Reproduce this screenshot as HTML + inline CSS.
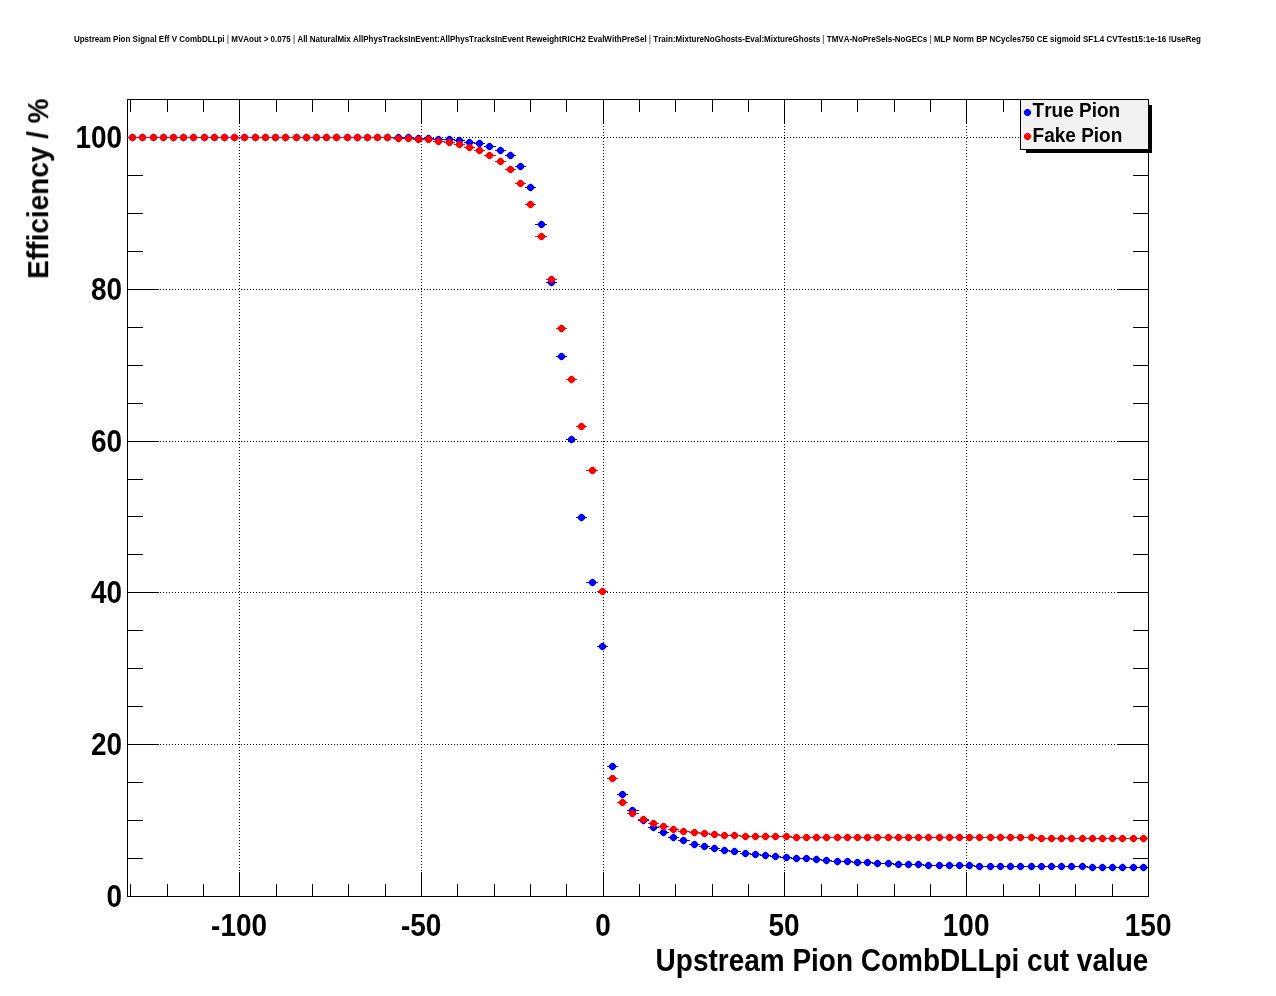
<!DOCTYPE html>
<html><head><meta charset="utf-8"><title>Upstream Pion Signal Eff V CombDLLpi</title>
<style>html,body{margin:0;padding:0;background:#fff}svg{display:block}text{font-family:"Liberation Sans",sans-serif;font-weight:bold;fill:#000;font-kerning:none}</style></head>
<body>
<svg width="1276" height="996" viewBox="0 0 1276 996">
<defs><filter id="gs" x="0" y="0" width="100%" height="100%" filterUnits="userSpaceOnUse" color-interpolation-filters="sRGB"><feColorMatrix type="saturate" values="0"/></filter></defs>
<rect width="1276" height="996" fill="#fff"/>
<g stroke="#000" stroke-width="1" stroke-dasharray="1 2" shape-rendering="crispEdges" fill="none">
<line x1="127" y1="744.5" x2="1148" y2="744.5"/>
<line x1="127" y1="592.5" x2="1148" y2="592.5"/>
<line x1="127" y1="441.5" x2="1148" y2="441.5"/>
<line x1="127" y1="289.5" x2="1148" y2="289.5"/>
<line x1="127" y1="137.5" x2="1148" y2="137.5"/>
<line x1="239.5" y1="99" x2="239.5" y2="896"/>
<line x1="421.5" y1="99" x2="421.5" y2="896"/>
<line x1="603.5" y1="99" x2="603.5" y2="896"/>
<line x1="784.5" y1="99" x2="784.5" y2="896"/>
<line x1="966.5" y1="99" x2="966.5" y2="896"/>
</g>
<g stroke="#000" stroke-width="1" shape-rendering="crispEdges" fill="none">
<rect x="127.5" y="99.5" width="1021" height="797"/>
<path d="M130.5 896v-12M130.5 100v12M167.5 896v-12M167.5 100v12M203.5 896v-12M203.5 100v12M239.5 896v-24M239.5 100v24M276.5 896v-12M276.5 100v12M312.5 896v-12M312.5 100v12M348.5 896v-12M348.5 100v12M385.5 896v-12M385.5 100v12M421.5 896v-24M421.5 100v24M457.5 896v-12M457.5 100v12M494.5 896v-12M494.5 100v12M530.5 896v-12M530.5 100v12M566.5 896v-12M566.5 100v12M603.5 896v-24M603.5 100v24M639.5 896v-12M639.5 100v12M675.5 896v-12M675.5 100v12M712.5 896v-12M712.5 100v12M748.5 896v-12M748.5 100v12M784.5 896v-24M784.5 100v24M821.5 896v-12M821.5 100v12M857.5 896v-12M857.5 100v12M894.5 896v-12M894.5 100v12M930.5 896v-12M930.5 100v12M966.5 896v-24M966.5 100v24M1003.5 896v-12M1003.5 100v12M1039.5 896v-12M1039.5 100v12M1075.5 896v-12M1075.5 100v12M1112.5 896v-12M1112.5 100v12M128 858.5h15M1148 858.5h-15M128 820.5h15M1148 820.5h-15M128 782.5h15M1148 782.5h-15M128 744.5h31M1148 744.5h-31M128 706.5h15M1148 706.5h-15M128 668.5h15M1148 668.5h-15M128 630.5h15M1148 630.5h-15M128 592.5h31M1148 592.5h-31M128 554.5h15M1148 554.5h-15M128 516.5h15M1148 516.5h-15M128 479.5h15M1148 479.5h-15M128 441.5h31M1148 441.5h-31M128 403.5h15M1148 403.5h-15M128 365.5h15M1148 365.5h-15M128 327.5h15M1148 327.5h-15M128 289.5h31M1148 289.5h-31M128 251.5h15M1148 251.5h-15M128 213.5h15M1148 213.5h-15M128 175.5h15M1148 175.5h-15M128 137.5h31M1148 137.5h-31"/>
</g>
<g fill="#0000ff" stroke="#0000ff" stroke-width="1">
<path fill="none" shape-rendering="crispEdges" d="M127 137.5H138M137 137.5H149M148 137.5H159M158 137.5H169M168 137.5H179M178 137.5H189M188 137.5H200M199 137.5H210M209 137.5H220M219 137.5H230M229 137.5H240M239 137.5H251M250 137.5H261M260 137.5H271M270 137.5H281M280 137.5H291M290 137.5H302M301 137.5H312M311 137.5H322M321 137.5H332M331 137.5H342M341 137.5H353M352 137.5H363M362 137.5H373M372 137.5H383M382 137.5H394M393 137.5H404M403 137.5H414M413 138.5H424M423 138.5H434M433 139.5H445M444 139.5H455M454 140.5H465M464 142.5H475M474 143.5H485M484 146.5H496M495 150.5H506M505 155.5H516M515 166.5H526M525 187.5H536M535 224.5H547M546 282.5H557M556 356.5H567M566 439.5H577M576 517.5H587M586 582.5H598M597 646.5H608M607 766.5H618M617 794.5H628M627 810.5H639M638 820.5H649M648 827.5H659M658 832.5H669M668 837.5H679M678 840.5H690M689 844.5H700M699 846.5H710M709 848.5H720M719 850.5H730M729 851.5H741M740 853.5H751M750 854.5H761M760 855.5H771M770 856.5H781M780 857.5H792M791 858.5H802M801 858.5H812M811 859.5H822M821 860.5H832M831 861.5H843M842 861.5H853M852 862.5H863M862 862.5H873M872 863.5H883M882 863.5H894M893 864.5H904M903 864.5H914M913 864.5H924M923 865.5H935M934 865.5H945M944 865.5H955M954 865.5H965M964 865.5H975M974 866.5H986M985 866.5H996M995 866.5H1006M1005 866.5H1016M1015 866.5H1026M1025 866.5H1037M1036 866.5H1047M1046 866.5H1057M1056 866.5H1067M1066 866.5H1077M1076 866.5H1088M1087 867.5H1098M1097 867.5H1108M1107 867.5H1118M1117 867.5H1128M1127 867.5H1139M1138 867.5H1148"/>
<path stroke="none" d="M131.2 134h2.6l2.3 2.3v2.4l-2.3 2.3h-2.6l-2.3-2.3v-2.4zM141.2 134h2.6l2.3 2.3v2.4l-2.3 2.3h-2.6l-2.3-2.3v-2.4zM152.2 134h2.6l2.3 2.3v2.4l-2.3 2.3h-2.6l-2.3-2.3v-2.4zM162.2 134h2.6l2.3 2.3v2.4l-2.3 2.3h-2.6l-2.3-2.3v-2.4zM172.2 134h2.6l2.3 2.3v2.4l-2.3 2.3h-2.6l-2.3-2.3v-2.4zM182.2 134h2.6l2.3 2.3v2.4l-2.3 2.3h-2.6l-2.3-2.3v-2.4zM192.2 134h2.6l2.3 2.3v2.4l-2.3 2.3h-2.6l-2.3-2.3v-2.4zM203.2 134h2.6l2.3 2.3v2.4l-2.3 2.3h-2.6l-2.3-2.3v-2.4zM213.2 134h2.6l2.3 2.3v2.4l-2.3 2.3h-2.6l-2.3-2.3v-2.4zM223.2 134h2.6l2.3 2.3v2.4l-2.3 2.3h-2.6l-2.3-2.3v-2.4zM233.2 134h2.6l2.3 2.3v2.4l-2.3 2.3h-2.6l-2.3-2.3v-2.4zM243.2 134h2.6l2.3 2.3v2.4l-2.3 2.3h-2.6l-2.3-2.3v-2.4zM254.2 134h2.6l2.3 2.3v2.4l-2.3 2.3h-2.6l-2.3-2.3v-2.4zM264.2 134h2.6l2.3 2.3v2.4l-2.3 2.3h-2.6l-2.3-2.3v-2.4zM274.2 134h2.6l2.3 2.3v2.4l-2.3 2.3h-2.6l-2.3-2.3v-2.4zM284.2 134h2.6l2.3 2.3v2.4l-2.3 2.3h-2.6l-2.3-2.3v-2.4zM295.2 134h2.6l2.3 2.3v2.4l-2.3 2.3h-2.6l-2.3-2.3v-2.4zM305.2 134h2.6l2.3 2.3v2.4l-2.3 2.3h-2.6l-2.3-2.3v-2.4zM315.2 134h2.6l2.3 2.3v2.4l-2.3 2.3h-2.6l-2.3-2.3v-2.4zM325.2 134h2.6l2.3 2.3v2.4l-2.3 2.3h-2.6l-2.3-2.3v-2.4zM335.2 134h2.6l2.3 2.3v2.4l-2.3 2.3h-2.6l-2.3-2.3v-2.4zM346.2 134h2.6l2.3 2.3v2.4l-2.3 2.3h-2.6l-2.3-2.3v-2.4zM356.2 134h2.6l2.3 2.3v2.4l-2.3 2.3h-2.6l-2.3-2.3v-2.4zM366.2 134h2.6l2.3 2.3v2.4l-2.3 2.3h-2.6l-2.3-2.3v-2.4zM376.2 134h2.6l2.3 2.3v2.4l-2.3 2.3h-2.6l-2.3-2.3v-2.4zM386.2 134h2.6l2.3 2.3v2.4l-2.3 2.3h-2.6l-2.3-2.3v-2.4zM397.2 134h2.6l2.3 2.3v2.4l-2.3 2.3h-2.6l-2.3-2.3v-2.4zM407.2 134h2.6l2.3 2.3v2.4l-2.3 2.3h-2.6l-2.3-2.3v-2.4zM417.2 135h2.6l2.3 2.3v2.4l-2.3 2.3h-2.6l-2.3-2.3v-2.4zM427.2 135h2.6l2.3 2.3v2.4l-2.3 2.3h-2.6l-2.3-2.3v-2.4zM437.2 136h2.6l2.3 2.3v2.4l-2.3 2.3h-2.6l-2.3-2.3v-2.4zM448.2 136h2.6l2.3 2.3v2.4l-2.3 2.3h-2.6l-2.3-2.3v-2.4zM458.2 137h2.6l2.3 2.3v2.4l-2.3 2.3h-2.6l-2.3-2.3v-2.4zM468.2 139h2.6l2.3 2.3v2.4l-2.3 2.3h-2.6l-2.3-2.3v-2.4zM478.2 140h2.6l2.3 2.3v2.4l-2.3 2.3h-2.6l-2.3-2.3v-2.4zM488.2 143h2.6l2.3 2.3v2.4l-2.3 2.3h-2.6l-2.3-2.3v-2.4zM499.2 147h2.6l2.3 2.3v2.4l-2.3 2.3h-2.6l-2.3-2.3v-2.4zM509.2 152h2.6l2.3 2.3v2.4l-2.3 2.3h-2.6l-2.3-2.3v-2.4zM519.2 163h2.6l2.3 2.3v2.4l-2.3 2.3h-2.6l-2.3-2.3v-2.4zM529.2 184h2.6l2.3 2.3v2.4l-2.3 2.3h-2.6l-2.3-2.3v-2.4zM540.2 221h2.6l2.3 2.3v2.4l-2.3 2.3h-2.6l-2.3-2.3v-2.4zM550.2 279h2.6l2.3 2.3v2.4l-2.3 2.3h-2.6l-2.3-2.3v-2.4zM560.2 353h2.6l2.3 2.3v2.4l-2.3 2.3h-2.6l-2.3-2.3v-2.4zM570.2 436h2.6l2.3 2.3v2.4l-2.3 2.3h-2.6l-2.3-2.3v-2.4zM580.2 514h2.6l2.3 2.3v2.4l-2.3 2.3h-2.6l-2.3-2.3v-2.4zM591.2 579h2.6l2.3 2.3v2.4l-2.3 2.3h-2.6l-2.3-2.3v-2.4zM601.2 643h2.6l2.3 2.3v2.4l-2.3 2.3h-2.6l-2.3-2.3v-2.4zM611.2 763h2.6l2.3 2.3v2.4l-2.3 2.3h-2.6l-2.3-2.3v-2.4zM621.2 791h2.6l2.3 2.3v2.4l-2.3 2.3h-2.6l-2.3-2.3v-2.4zM631.2 807h2.6l2.3 2.3v2.4l-2.3 2.3h-2.6l-2.3-2.3v-2.4zM642.2 817h2.6l2.3 2.3v2.4l-2.3 2.3h-2.6l-2.3-2.3v-2.4zM652.2 824h2.6l2.3 2.3v2.4l-2.3 2.3h-2.6l-2.3-2.3v-2.4zM662.2 829h2.6l2.3 2.3v2.4l-2.3 2.3h-2.6l-2.3-2.3v-2.4zM672.2 834h2.6l2.3 2.3v2.4l-2.3 2.3h-2.6l-2.3-2.3v-2.4zM682.2 837h2.6l2.3 2.3v2.4l-2.3 2.3h-2.6l-2.3-2.3v-2.4zM693.2 841h2.6l2.3 2.3v2.4l-2.3 2.3h-2.6l-2.3-2.3v-2.4zM703.2 843h2.6l2.3 2.3v2.4l-2.3 2.3h-2.6l-2.3-2.3v-2.4zM713.2 845h2.6l2.3 2.3v2.4l-2.3 2.3h-2.6l-2.3-2.3v-2.4zM723.2 847h2.6l2.3 2.3v2.4l-2.3 2.3h-2.6l-2.3-2.3v-2.4zM733.2 848h2.6l2.3 2.3v2.4l-2.3 2.3h-2.6l-2.3-2.3v-2.4zM744.2 850h2.6l2.3 2.3v2.4l-2.3 2.3h-2.6l-2.3-2.3v-2.4zM754.2 851h2.6l2.3 2.3v2.4l-2.3 2.3h-2.6l-2.3-2.3v-2.4zM764.2 852h2.6l2.3 2.3v2.4l-2.3 2.3h-2.6l-2.3-2.3v-2.4zM774.2 853h2.6l2.3 2.3v2.4l-2.3 2.3h-2.6l-2.3-2.3v-2.4zM785.2 854h2.6l2.3 2.3v2.4l-2.3 2.3h-2.6l-2.3-2.3v-2.4zM795.2 855h2.6l2.3 2.3v2.4l-2.3 2.3h-2.6l-2.3-2.3v-2.4zM805.2 855h2.6l2.3 2.3v2.4l-2.3 2.3h-2.6l-2.3-2.3v-2.4zM815.2 856h2.6l2.3 2.3v2.4l-2.3 2.3h-2.6l-2.3-2.3v-2.4zM825.2 857h2.6l2.3 2.3v2.4l-2.3 2.3h-2.6l-2.3-2.3v-2.4zM836.2 858h2.6l2.3 2.3v2.4l-2.3 2.3h-2.6l-2.3-2.3v-2.4zM846.2 858h2.6l2.3 2.3v2.4l-2.3 2.3h-2.6l-2.3-2.3v-2.4zM856.2 859h2.6l2.3 2.3v2.4l-2.3 2.3h-2.6l-2.3-2.3v-2.4zM866.2 859h2.6l2.3 2.3v2.4l-2.3 2.3h-2.6l-2.3-2.3v-2.4zM876.2 860h2.6l2.3 2.3v2.4l-2.3 2.3h-2.6l-2.3-2.3v-2.4zM887.2 860h2.6l2.3 2.3v2.4l-2.3 2.3h-2.6l-2.3-2.3v-2.4zM897.2 861h2.6l2.3 2.3v2.4l-2.3 2.3h-2.6l-2.3-2.3v-2.4zM907.2 861h2.6l2.3 2.3v2.4l-2.3 2.3h-2.6l-2.3-2.3v-2.4zM917.2 861h2.6l2.3 2.3v2.4l-2.3 2.3h-2.6l-2.3-2.3v-2.4zM927.2 862h2.6l2.3 2.3v2.4l-2.3 2.3h-2.6l-2.3-2.3v-2.4zM938.2 862h2.6l2.3 2.3v2.4l-2.3 2.3h-2.6l-2.3-2.3v-2.4zM948.2 862h2.6l2.3 2.3v2.4l-2.3 2.3h-2.6l-2.3-2.3v-2.4zM958.2 862h2.6l2.3 2.3v2.4l-2.3 2.3h-2.6l-2.3-2.3v-2.4zM968.2 862h2.6l2.3 2.3v2.4l-2.3 2.3h-2.6l-2.3-2.3v-2.4zM978.2 863h2.6l2.3 2.3v2.4l-2.3 2.3h-2.6l-2.3-2.3v-2.4zM989.2 863h2.6l2.3 2.3v2.4l-2.3 2.3h-2.6l-2.3-2.3v-2.4zM999.2 863h2.6l2.3 2.3v2.4l-2.3 2.3h-2.6l-2.3-2.3v-2.4zM1009.2 863h2.6l2.3 2.3v2.4l-2.3 2.3h-2.6l-2.3-2.3v-2.4zM1019.2 863h2.6l2.3 2.3v2.4l-2.3 2.3h-2.6l-2.3-2.3v-2.4zM1030.2 863h2.6l2.3 2.3v2.4l-2.3 2.3h-2.6l-2.3-2.3v-2.4zM1040.2 863h2.6l2.3 2.3v2.4l-2.3 2.3h-2.6l-2.3-2.3v-2.4zM1050.2 863h2.6l2.3 2.3v2.4l-2.3 2.3h-2.6l-2.3-2.3v-2.4zM1060.2 863h2.6l2.3 2.3v2.4l-2.3 2.3h-2.6l-2.3-2.3v-2.4zM1070.2 863h2.6l2.3 2.3v2.4l-2.3 2.3h-2.6l-2.3-2.3v-2.4zM1081.2 863h2.6l2.3 2.3v2.4l-2.3 2.3h-2.6l-2.3-2.3v-2.4zM1091.2 864h2.6l2.3 2.3v2.4l-2.3 2.3h-2.6l-2.3-2.3v-2.4zM1101.2 864h2.6l2.3 2.3v2.4l-2.3 2.3h-2.6l-2.3-2.3v-2.4zM1111.2 864h2.6l2.3 2.3v2.4l-2.3 2.3h-2.6l-2.3-2.3v-2.4zM1121.2 864h2.6l2.3 2.3v2.4l-2.3 2.3h-2.6l-2.3-2.3v-2.4zM1132.2 864h2.6l2.3 2.3v2.4l-2.3 2.3h-2.6l-2.3-2.3v-2.4zM1142.2 864h2.6l2.3 2.3v2.4l-2.3 2.3h-2.6l-2.3-2.3v-2.4z"/>
<path stroke="none" fill-opacity="0.28" shape-rendering="crispEdges" d="M132 133h1v1h-1zM132 141h1v1h-1zM142 133h1v1h-1zM142 141h1v1h-1zM153 133h1v1h-1zM153 141h1v1h-1zM163 133h1v1h-1zM163 141h1v1h-1zM173 133h1v1h-1zM173 141h1v1h-1zM183 133h1v1h-1zM183 141h1v1h-1zM193 133h1v1h-1zM193 141h1v1h-1zM204 133h1v1h-1zM204 141h1v1h-1zM214 133h1v1h-1zM214 141h1v1h-1zM224 133h1v1h-1zM224 141h1v1h-1zM234 133h1v1h-1zM234 141h1v1h-1zM244 133h1v1h-1zM244 141h1v1h-1zM255 133h1v1h-1zM255 141h1v1h-1zM265 133h1v1h-1zM265 141h1v1h-1zM275 133h1v1h-1zM275 141h1v1h-1zM285 133h1v1h-1zM285 141h1v1h-1zM296 133h1v1h-1zM296 141h1v1h-1zM306 133h1v1h-1zM306 141h1v1h-1zM316 133h1v1h-1zM316 141h1v1h-1zM326 133h1v1h-1zM326 141h1v1h-1zM336 133h1v1h-1zM336 141h1v1h-1zM347 133h1v1h-1zM347 141h1v1h-1zM357 133h1v1h-1zM357 141h1v1h-1zM367 133h1v1h-1zM367 141h1v1h-1zM377 133h1v1h-1zM377 141h1v1h-1zM387 133h1v1h-1zM387 141h1v1h-1zM398 133h1v1h-1zM398 141h1v1h-1zM408 133h1v1h-1zM408 141h1v1h-1zM418 134h1v1h-1zM418 142h1v1h-1zM428 134h1v1h-1zM428 142h1v1h-1zM438 135h1v1h-1zM438 143h1v1h-1zM449 135h1v1h-1zM449 143h1v1h-1zM459 136h1v1h-1zM459 144h1v1h-1zM469 138h1v1h-1zM469 146h1v1h-1zM479 139h1v1h-1zM479 147h1v1h-1zM489 142h1v1h-1zM489 150h1v1h-1zM500 146h1v1h-1zM500 154h1v1h-1zM510 151h1v1h-1zM510 159h1v1h-1zM520 162h1v1h-1zM520 170h1v1h-1zM530 183h1v1h-1zM530 191h1v1h-1zM541 220h1v1h-1zM541 228h1v1h-1zM551 278h1v1h-1zM551 286h1v1h-1zM561 352h1v1h-1zM561 360h1v1h-1zM571 435h1v1h-1zM571 443h1v1h-1zM581 513h1v1h-1zM581 521h1v1h-1zM592 578h1v1h-1zM592 586h1v1h-1zM602 642h1v1h-1zM602 650h1v1h-1zM612 762h1v1h-1zM612 770h1v1h-1zM622 790h1v1h-1zM622 798h1v1h-1zM632 806h1v1h-1zM632 814h1v1h-1zM643 816h1v1h-1zM643 824h1v1h-1zM653 823h1v1h-1zM653 831h1v1h-1zM663 828h1v1h-1zM663 836h1v1h-1zM673 833h1v1h-1zM673 841h1v1h-1zM683 836h1v1h-1zM683 844h1v1h-1zM694 840h1v1h-1zM694 848h1v1h-1zM704 842h1v1h-1zM704 850h1v1h-1zM714 844h1v1h-1zM714 852h1v1h-1zM724 846h1v1h-1zM724 854h1v1h-1zM734 847h1v1h-1zM734 855h1v1h-1zM745 849h1v1h-1zM745 857h1v1h-1zM755 850h1v1h-1zM755 858h1v1h-1zM765 851h1v1h-1zM765 859h1v1h-1zM775 852h1v1h-1zM775 860h1v1h-1zM786 853h1v1h-1zM786 861h1v1h-1zM796 854h1v1h-1zM796 862h1v1h-1zM806 854h1v1h-1zM806 862h1v1h-1zM816 855h1v1h-1zM816 863h1v1h-1zM826 856h1v1h-1zM826 864h1v1h-1zM837 857h1v1h-1zM837 865h1v1h-1zM847 857h1v1h-1zM847 865h1v1h-1zM857 858h1v1h-1zM857 866h1v1h-1zM867 858h1v1h-1zM867 866h1v1h-1zM877 859h1v1h-1zM877 867h1v1h-1zM888 859h1v1h-1zM888 867h1v1h-1zM898 860h1v1h-1zM898 868h1v1h-1zM908 860h1v1h-1zM908 868h1v1h-1zM918 860h1v1h-1zM918 868h1v1h-1zM928 861h1v1h-1zM928 869h1v1h-1zM939 861h1v1h-1zM939 869h1v1h-1zM949 861h1v1h-1zM949 869h1v1h-1zM959 861h1v1h-1zM959 869h1v1h-1zM969 861h1v1h-1zM969 869h1v1h-1zM979 862h1v1h-1zM979 870h1v1h-1zM990 862h1v1h-1zM990 870h1v1h-1zM1000 862h1v1h-1zM1000 870h1v1h-1zM1010 862h1v1h-1zM1010 870h1v1h-1zM1020 862h1v1h-1zM1020 870h1v1h-1zM1031 862h1v1h-1zM1031 870h1v1h-1zM1041 862h1v1h-1zM1041 870h1v1h-1zM1051 862h1v1h-1zM1051 870h1v1h-1zM1061 862h1v1h-1zM1061 870h1v1h-1zM1071 862h1v1h-1zM1071 870h1v1h-1zM1082 862h1v1h-1zM1082 870h1v1h-1zM1092 863h1v1h-1zM1092 871h1v1h-1zM1102 863h1v1h-1zM1102 871h1v1h-1zM1112 863h1v1h-1zM1112 871h1v1h-1zM1122 863h1v1h-1zM1122 871h1v1h-1zM1133 863h1v1h-1zM1133 871h1v1h-1zM1143 863h1v1h-1zM1143 871h1v1h-1z"/>
</g>
<g fill="#ff0000" stroke="#ff0000" stroke-width="1">
<path fill="none" shape-rendering="crispEdges" d="M127 137.5H138M137 137.5H149M148 137.5H159M158 137.5H169M168 137.5H179M178 137.5H189M188 137.5H200M199 137.5H210M209 137.5H220M219 137.5H230M229 137.5H240M239 137.5H251M250 137.5H261M260 137.5H271M270 137.5H281M280 137.5H291M290 137.5H302M301 137.5H312M311 137.5H322M321 137.5H332M331 137.5H342M341 137.5H353M352 137.5H363M362 137.5H373M372 137.5H383M382 137.5H394M393 138.5H404M403 138.5H414M413 139.5H424M423 139.5H434M433 141.5H445M444 142.5H455M454 144.5H465M464 147.5H475M474 150.5H485M484 155.5H496M495 161.5H506M505 169.5H516M515 183.5H526M525 204.5H536M535 236.5H547M546 279.5H557M556 328.5H567M566 379.5H577M576 426.5H587M586 470.5H598M597 591.5H608M607 778.5H618M617 802.5H628M627 813.5H639M638 819.5H649M648 823.5H659M658 826.5H669M668 829.5H679M678 831.5H690M689 832.5H700M699 833.5H710M709 834.5H720M719 835.5H730M729 835.5H741M740 836.5H751M750 836.5H761M760 836.5H771M770 836.5H781M780 836.5H792M791 837.5H802M801 837.5H812M811 837.5H822M821 837.5H832M831 837.5H843M842 837.5H853M852 837.5H863M862 837.5H873M872 837.5H883M882 837.5H894M893 837.5H904M903 837.5H914M913 837.5H924M923 837.5H935M934 837.5H945M944 837.5H955M954 837.5H965M964 837.5H975M974 837.5H986M985 837.5H996M995 837.5H1006M1005 837.5H1016M1015 837.5H1026M1025 837.5H1037M1036 838.5H1047M1046 838.5H1057M1056 838.5H1067M1066 838.5H1077M1076 838.5H1088M1087 838.5H1098M1097 838.5H1108M1107 838.5H1118M1117 838.5H1128M1127 838.5H1139M1138 838.5H1149"/>
<path stroke="none" d="M131.2 134h2.6l2.3 2.3v2.4l-2.3 2.3h-2.6l-2.3-2.3v-2.4zM141.2 134h2.6l2.3 2.3v2.4l-2.3 2.3h-2.6l-2.3-2.3v-2.4zM152.2 134h2.6l2.3 2.3v2.4l-2.3 2.3h-2.6l-2.3-2.3v-2.4zM162.2 134h2.6l2.3 2.3v2.4l-2.3 2.3h-2.6l-2.3-2.3v-2.4zM172.2 134h2.6l2.3 2.3v2.4l-2.3 2.3h-2.6l-2.3-2.3v-2.4zM182.2 134h2.6l2.3 2.3v2.4l-2.3 2.3h-2.6l-2.3-2.3v-2.4zM192.2 134h2.6l2.3 2.3v2.4l-2.3 2.3h-2.6l-2.3-2.3v-2.4zM203.2 134h2.6l2.3 2.3v2.4l-2.3 2.3h-2.6l-2.3-2.3v-2.4zM213.2 134h2.6l2.3 2.3v2.4l-2.3 2.3h-2.6l-2.3-2.3v-2.4zM223.2 134h2.6l2.3 2.3v2.4l-2.3 2.3h-2.6l-2.3-2.3v-2.4zM233.2 134h2.6l2.3 2.3v2.4l-2.3 2.3h-2.6l-2.3-2.3v-2.4zM243.2 134h2.6l2.3 2.3v2.4l-2.3 2.3h-2.6l-2.3-2.3v-2.4zM254.2 134h2.6l2.3 2.3v2.4l-2.3 2.3h-2.6l-2.3-2.3v-2.4zM264.2 134h2.6l2.3 2.3v2.4l-2.3 2.3h-2.6l-2.3-2.3v-2.4zM274.2 134h2.6l2.3 2.3v2.4l-2.3 2.3h-2.6l-2.3-2.3v-2.4zM284.2 134h2.6l2.3 2.3v2.4l-2.3 2.3h-2.6l-2.3-2.3v-2.4zM295.2 134h2.6l2.3 2.3v2.4l-2.3 2.3h-2.6l-2.3-2.3v-2.4zM305.2 134h2.6l2.3 2.3v2.4l-2.3 2.3h-2.6l-2.3-2.3v-2.4zM315.2 134h2.6l2.3 2.3v2.4l-2.3 2.3h-2.6l-2.3-2.3v-2.4zM325.2 134h2.6l2.3 2.3v2.4l-2.3 2.3h-2.6l-2.3-2.3v-2.4zM335.2 134h2.6l2.3 2.3v2.4l-2.3 2.3h-2.6l-2.3-2.3v-2.4zM346.2 134h2.6l2.3 2.3v2.4l-2.3 2.3h-2.6l-2.3-2.3v-2.4zM356.2 134h2.6l2.3 2.3v2.4l-2.3 2.3h-2.6l-2.3-2.3v-2.4zM366.2 134h2.6l2.3 2.3v2.4l-2.3 2.3h-2.6l-2.3-2.3v-2.4zM376.2 134h2.6l2.3 2.3v2.4l-2.3 2.3h-2.6l-2.3-2.3v-2.4zM386.2 134h2.6l2.3 2.3v2.4l-2.3 2.3h-2.6l-2.3-2.3v-2.4zM397.2 135h2.6l2.3 2.3v2.4l-2.3 2.3h-2.6l-2.3-2.3v-2.4zM407.2 135h2.6l2.3 2.3v2.4l-2.3 2.3h-2.6l-2.3-2.3v-2.4zM417.2 136h2.6l2.3 2.3v2.4l-2.3 2.3h-2.6l-2.3-2.3v-2.4zM427.2 136h2.6l2.3 2.3v2.4l-2.3 2.3h-2.6l-2.3-2.3v-2.4zM437.2 138h2.6l2.3 2.3v2.4l-2.3 2.3h-2.6l-2.3-2.3v-2.4zM448.2 139h2.6l2.3 2.3v2.4l-2.3 2.3h-2.6l-2.3-2.3v-2.4zM458.2 141h2.6l2.3 2.3v2.4l-2.3 2.3h-2.6l-2.3-2.3v-2.4zM468.2 144h2.6l2.3 2.3v2.4l-2.3 2.3h-2.6l-2.3-2.3v-2.4zM478.2 147h2.6l2.3 2.3v2.4l-2.3 2.3h-2.6l-2.3-2.3v-2.4zM488.2 152h2.6l2.3 2.3v2.4l-2.3 2.3h-2.6l-2.3-2.3v-2.4zM499.2 158h2.6l2.3 2.3v2.4l-2.3 2.3h-2.6l-2.3-2.3v-2.4zM509.2 166h2.6l2.3 2.3v2.4l-2.3 2.3h-2.6l-2.3-2.3v-2.4zM519.2 180h2.6l2.3 2.3v2.4l-2.3 2.3h-2.6l-2.3-2.3v-2.4zM529.2 201h2.6l2.3 2.3v2.4l-2.3 2.3h-2.6l-2.3-2.3v-2.4zM540.2 233h2.6l2.3 2.3v2.4l-2.3 2.3h-2.6l-2.3-2.3v-2.4zM550.2 276h2.6l2.3 2.3v2.4l-2.3 2.3h-2.6l-2.3-2.3v-2.4zM560.2 325h2.6l2.3 2.3v2.4l-2.3 2.3h-2.6l-2.3-2.3v-2.4zM570.2 376h2.6l2.3 2.3v2.4l-2.3 2.3h-2.6l-2.3-2.3v-2.4zM580.2 423h2.6l2.3 2.3v2.4l-2.3 2.3h-2.6l-2.3-2.3v-2.4zM591.2 467h2.6l2.3 2.3v2.4l-2.3 2.3h-2.6l-2.3-2.3v-2.4zM601.2 588h2.6l2.3 2.3v2.4l-2.3 2.3h-2.6l-2.3-2.3v-2.4zM611.2 775h2.6l2.3 2.3v2.4l-2.3 2.3h-2.6l-2.3-2.3v-2.4zM621.2 799h2.6l2.3 2.3v2.4l-2.3 2.3h-2.6l-2.3-2.3v-2.4zM631.2 810h2.6l2.3 2.3v2.4l-2.3 2.3h-2.6l-2.3-2.3v-2.4zM642.2 816h2.6l2.3 2.3v2.4l-2.3 2.3h-2.6l-2.3-2.3v-2.4zM652.2 820h2.6l2.3 2.3v2.4l-2.3 2.3h-2.6l-2.3-2.3v-2.4zM662.2 823h2.6l2.3 2.3v2.4l-2.3 2.3h-2.6l-2.3-2.3v-2.4zM672.2 826h2.6l2.3 2.3v2.4l-2.3 2.3h-2.6l-2.3-2.3v-2.4zM682.2 828h2.6l2.3 2.3v2.4l-2.3 2.3h-2.6l-2.3-2.3v-2.4zM693.2 829h2.6l2.3 2.3v2.4l-2.3 2.3h-2.6l-2.3-2.3v-2.4zM703.2 830h2.6l2.3 2.3v2.4l-2.3 2.3h-2.6l-2.3-2.3v-2.4zM713.2 831h2.6l2.3 2.3v2.4l-2.3 2.3h-2.6l-2.3-2.3v-2.4zM723.2 832h2.6l2.3 2.3v2.4l-2.3 2.3h-2.6l-2.3-2.3v-2.4zM733.2 832h2.6l2.3 2.3v2.4l-2.3 2.3h-2.6l-2.3-2.3v-2.4zM744.2 833h2.6l2.3 2.3v2.4l-2.3 2.3h-2.6l-2.3-2.3v-2.4zM754.2 833h2.6l2.3 2.3v2.4l-2.3 2.3h-2.6l-2.3-2.3v-2.4zM764.2 833h2.6l2.3 2.3v2.4l-2.3 2.3h-2.6l-2.3-2.3v-2.4zM774.2 833h2.6l2.3 2.3v2.4l-2.3 2.3h-2.6l-2.3-2.3v-2.4zM785.2 833h2.6l2.3 2.3v2.4l-2.3 2.3h-2.6l-2.3-2.3v-2.4zM795.2 834h2.6l2.3 2.3v2.4l-2.3 2.3h-2.6l-2.3-2.3v-2.4zM805.2 834h2.6l2.3 2.3v2.4l-2.3 2.3h-2.6l-2.3-2.3v-2.4zM815.2 834h2.6l2.3 2.3v2.4l-2.3 2.3h-2.6l-2.3-2.3v-2.4zM825.2 834h2.6l2.3 2.3v2.4l-2.3 2.3h-2.6l-2.3-2.3v-2.4zM836.2 834h2.6l2.3 2.3v2.4l-2.3 2.3h-2.6l-2.3-2.3v-2.4zM846.2 834h2.6l2.3 2.3v2.4l-2.3 2.3h-2.6l-2.3-2.3v-2.4zM856.2 834h2.6l2.3 2.3v2.4l-2.3 2.3h-2.6l-2.3-2.3v-2.4zM866.2 834h2.6l2.3 2.3v2.4l-2.3 2.3h-2.6l-2.3-2.3v-2.4zM876.2 834h2.6l2.3 2.3v2.4l-2.3 2.3h-2.6l-2.3-2.3v-2.4zM887.2 834h2.6l2.3 2.3v2.4l-2.3 2.3h-2.6l-2.3-2.3v-2.4zM897.2 834h2.6l2.3 2.3v2.4l-2.3 2.3h-2.6l-2.3-2.3v-2.4zM907.2 834h2.6l2.3 2.3v2.4l-2.3 2.3h-2.6l-2.3-2.3v-2.4zM917.2 834h2.6l2.3 2.3v2.4l-2.3 2.3h-2.6l-2.3-2.3v-2.4zM927.2 834h2.6l2.3 2.3v2.4l-2.3 2.3h-2.6l-2.3-2.3v-2.4zM938.2 834h2.6l2.3 2.3v2.4l-2.3 2.3h-2.6l-2.3-2.3v-2.4zM948.2 834h2.6l2.3 2.3v2.4l-2.3 2.3h-2.6l-2.3-2.3v-2.4zM958.2 834h2.6l2.3 2.3v2.4l-2.3 2.3h-2.6l-2.3-2.3v-2.4zM968.2 834h2.6l2.3 2.3v2.4l-2.3 2.3h-2.6l-2.3-2.3v-2.4zM978.2 834h2.6l2.3 2.3v2.4l-2.3 2.3h-2.6l-2.3-2.3v-2.4zM989.2 834h2.6l2.3 2.3v2.4l-2.3 2.3h-2.6l-2.3-2.3v-2.4zM999.2 834h2.6l2.3 2.3v2.4l-2.3 2.3h-2.6l-2.3-2.3v-2.4zM1009.2 834h2.6l2.3 2.3v2.4l-2.3 2.3h-2.6l-2.3-2.3v-2.4zM1019.2 834h2.6l2.3 2.3v2.4l-2.3 2.3h-2.6l-2.3-2.3v-2.4zM1030.2 834h2.6l2.3 2.3v2.4l-2.3 2.3h-2.6l-2.3-2.3v-2.4zM1040.2 835h2.6l2.3 2.3v2.4l-2.3 2.3h-2.6l-2.3-2.3v-2.4zM1050.2 835h2.6l2.3 2.3v2.4l-2.3 2.3h-2.6l-2.3-2.3v-2.4zM1060.2 835h2.6l2.3 2.3v2.4l-2.3 2.3h-2.6l-2.3-2.3v-2.4zM1070.2 835h2.6l2.3 2.3v2.4l-2.3 2.3h-2.6l-2.3-2.3v-2.4zM1081.2 835h2.6l2.3 2.3v2.4l-2.3 2.3h-2.6l-2.3-2.3v-2.4zM1091.2 835h2.6l2.3 2.3v2.4l-2.3 2.3h-2.6l-2.3-2.3v-2.4zM1101.2 835h2.6l2.3 2.3v2.4l-2.3 2.3h-2.6l-2.3-2.3v-2.4zM1111.2 835h2.6l2.3 2.3v2.4l-2.3 2.3h-2.6l-2.3-2.3v-2.4zM1121.2 835h2.6l2.3 2.3v2.4l-2.3 2.3h-2.6l-2.3-2.3v-2.4zM1132.2 835h2.6l2.3 2.3v2.4l-2.3 2.3h-2.6l-2.3-2.3v-2.4zM1142.2 835h2.6l2.3 2.3v2.4l-2.3 2.3h-2.6l-2.3-2.3v-2.4z"/>
<path stroke="none" fill-opacity="0.28" shape-rendering="crispEdges" d="M132 133h1v1h-1zM132 141h1v1h-1zM142 133h1v1h-1zM142 141h1v1h-1zM153 133h1v1h-1zM153 141h1v1h-1zM163 133h1v1h-1zM163 141h1v1h-1zM173 133h1v1h-1zM173 141h1v1h-1zM183 133h1v1h-1zM183 141h1v1h-1zM193 133h1v1h-1zM193 141h1v1h-1zM204 133h1v1h-1zM204 141h1v1h-1zM214 133h1v1h-1zM214 141h1v1h-1zM224 133h1v1h-1zM224 141h1v1h-1zM234 133h1v1h-1zM234 141h1v1h-1zM244 133h1v1h-1zM244 141h1v1h-1zM255 133h1v1h-1zM255 141h1v1h-1zM265 133h1v1h-1zM265 141h1v1h-1zM275 133h1v1h-1zM275 141h1v1h-1zM285 133h1v1h-1zM285 141h1v1h-1zM296 133h1v1h-1zM296 141h1v1h-1zM306 133h1v1h-1zM306 141h1v1h-1zM316 133h1v1h-1zM316 141h1v1h-1zM326 133h1v1h-1zM326 141h1v1h-1zM336 133h1v1h-1zM336 141h1v1h-1zM347 133h1v1h-1zM347 141h1v1h-1zM357 133h1v1h-1zM357 141h1v1h-1zM367 133h1v1h-1zM367 141h1v1h-1zM377 133h1v1h-1zM377 141h1v1h-1zM387 133h1v1h-1zM387 141h1v1h-1zM398 134h1v1h-1zM398 142h1v1h-1zM408 134h1v1h-1zM408 142h1v1h-1zM418 135h1v1h-1zM418 143h1v1h-1zM428 135h1v1h-1zM428 143h1v1h-1zM438 137h1v1h-1zM438 145h1v1h-1zM449 138h1v1h-1zM449 146h1v1h-1zM459 140h1v1h-1zM459 148h1v1h-1zM469 143h1v1h-1zM469 151h1v1h-1zM479 146h1v1h-1zM479 154h1v1h-1zM489 151h1v1h-1zM489 159h1v1h-1zM500 157h1v1h-1zM500 165h1v1h-1zM510 165h1v1h-1zM510 173h1v1h-1zM520 179h1v1h-1zM520 187h1v1h-1zM530 200h1v1h-1zM530 208h1v1h-1zM541 232h1v1h-1zM541 240h1v1h-1zM551 275h1v1h-1zM551 283h1v1h-1zM561 324h1v1h-1zM561 332h1v1h-1zM571 375h1v1h-1zM571 383h1v1h-1zM581 422h1v1h-1zM581 430h1v1h-1zM592 466h1v1h-1zM592 474h1v1h-1zM602 587h1v1h-1zM602 595h1v1h-1zM612 774h1v1h-1zM612 782h1v1h-1zM622 798h1v1h-1zM622 806h1v1h-1zM632 809h1v1h-1zM632 817h1v1h-1zM643 815h1v1h-1zM643 823h1v1h-1zM653 819h1v1h-1zM653 827h1v1h-1zM663 822h1v1h-1zM663 830h1v1h-1zM673 825h1v1h-1zM673 833h1v1h-1zM683 827h1v1h-1zM683 835h1v1h-1zM694 828h1v1h-1zM694 836h1v1h-1zM704 829h1v1h-1zM704 837h1v1h-1zM714 830h1v1h-1zM714 838h1v1h-1zM724 831h1v1h-1zM724 839h1v1h-1zM734 831h1v1h-1zM734 839h1v1h-1zM745 832h1v1h-1zM745 840h1v1h-1zM755 832h1v1h-1zM755 840h1v1h-1zM765 832h1v1h-1zM765 840h1v1h-1zM775 832h1v1h-1zM775 840h1v1h-1zM786 832h1v1h-1zM786 840h1v1h-1zM796 833h1v1h-1zM796 841h1v1h-1zM806 833h1v1h-1zM806 841h1v1h-1zM816 833h1v1h-1zM816 841h1v1h-1zM826 833h1v1h-1zM826 841h1v1h-1zM837 833h1v1h-1zM837 841h1v1h-1zM847 833h1v1h-1zM847 841h1v1h-1zM857 833h1v1h-1zM857 841h1v1h-1zM867 833h1v1h-1zM867 841h1v1h-1zM877 833h1v1h-1zM877 841h1v1h-1zM888 833h1v1h-1zM888 841h1v1h-1zM898 833h1v1h-1zM898 841h1v1h-1zM908 833h1v1h-1zM908 841h1v1h-1zM918 833h1v1h-1zM918 841h1v1h-1zM928 833h1v1h-1zM928 841h1v1h-1zM939 833h1v1h-1zM939 841h1v1h-1zM949 833h1v1h-1zM949 841h1v1h-1zM959 833h1v1h-1zM959 841h1v1h-1zM969 833h1v1h-1zM969 841h1v1h-1zM979 833h1v1h-1zM979 841h1v1h-1zM990 833h1v1h-1zM990 841h1v1h-1zM1000 833h1v1h-1zM1000 841h1v1h-1zM1010 833h1v1h-1zM1010 841h1v1h-1zM1020 833h1v1h-1zM1020 841h1v1h-1zM1031 833h1v1h-1zM1031 841h1v1h-1zM1041 834h1v1h-1zM1041 842h1v1h-1zM1051 834h1v1h-1zM1051 842h1v1h-1zM1061 834h1v1h-1zM1061 842h1v1h-1zM1071 834h1v1h-1zM1071 842h1v1h-1zM1082 834h1v1h-1zM1082 842h1v1h-1zM1092 834h1v1h-1zM1092 842h1v1h-1zM1102 834h1v1h-1zM1102 842h1v1h-1zM1112 834h1v1h-1zM1112 842h1v1h-1zM1122 834h1v1h-1zM1122 842h1v1h-1zM1133 834h1v1h-1zM1133 842h1v1h-1zM1143 834h1v1h-1zM1143 842h1v1h-1z"/>
</g>
<g shape-rendering="crispEdges">
<rect x="1026" y="105" width="126" height="48" fill="#000"/>
<rect x="1020.5" y="99.5" width="128" height="50" fill="#f2f2f2" stroke="#000" stroke-width="1"/>
</g>
<path fill="#0000ff" d="M1026.2 109h2.6l2.3 2.3v2.4l-2.3 2.3h-2.6l-2.3-2.3v-2.4z"/><path fill="#ff0000" d="M1026.2 133h2.6l2.3 2.3v2.4l-2.3 2.3h-2.6l-2.3-2.3v-2.4z"/>
<g filter="url(#gs)">
<text transform="translate(1032.6 117.2) scale(1 1.05)" font-size="19">True Pion</text>
<text transform="translate(1032.6 141.9) scale(1 1.05)" font-size="19">Fake Pion</text>
<g font-size="28">
<text transform="translate(122.1 907.4) scale(1 1.12)" text-anchor="end">0</text>
<text transform="translate(122.1 755.4) scale(1 1.12)" text-anchor="end">20</text>
<text transform="translate(122.1 603.4) scale(1 1.12)" text-anchor="end">40</text>
<text transform="translate(122.1 452.4) scale(1 1.12)" text-anchor="end">60</text>
<text transform="translate(122.1 300.4) scale(1 1.12)" text-anchor="end">80</text>
<text transform="translate(122.1 148.4) scale(1 1.12)" text-anchor="end">100</text>
<text transform="translate(239.1 935.6) scale(1 1.12)" text-anchor="middle">-100</text>
<text transform="translate(421.1 935.6) scale(1 1.12)" text-anchor="middle">-50</text>
<text transform="translate(603.1 935.6) scale(1 1.12)" text-anchor="middle">0</text>
<text transform="translate(784.1 935.6) scale(1 1.12)" text-anchor="middle">50</text>
<text transform="translate(966.1 935.6) scale(1 1.12)" text-anchor="middle">100</text>
<text transform="translate(1148.1 935.6) scale(1 1.12)" text-anchor="middle">150</text>
<text transform="translate(1148.4 971.4) scale(1 1.09)" text-anchor="end">Upstream Pion CombDLLpi cut value</text>
<text transform="translate(48.2 98.4) rotate(-90) scale(1 1.04)" text-anchor="end">Efficiency / %</text>
</g>
<text transform="translate(73.9 42) scale(1 1.06)" font-size="8" textLength="1127" lengthAdjust="spacing">Upstream Pion Signal Eff V CombDLLpi <tspan fill="#6a6a6a">|</tspan> MVAout &gt; 0.075 <tspan fill="#6a6a6a">|</tspan> All NaturalMix AllPhysTracksInEvent:AllPhysTracksInEvent ReweightRICH2 EvalWithPreSel <tspan fill="#6a6a6a">|</tspan> Train:MixtureNoGhosts-Eval:MixtureGhosts <tspan fill="#6a6a6a">|</tspan> TMVA-NoPreSels-NoGECs <tspan fill="#6a6a6a">|</tspan> MLP Norm BP NCycles750 CE sigmoid SF1.4 CVTest15:1e-16 !UseReg</text>
</g>
</svg>
</body></html>
